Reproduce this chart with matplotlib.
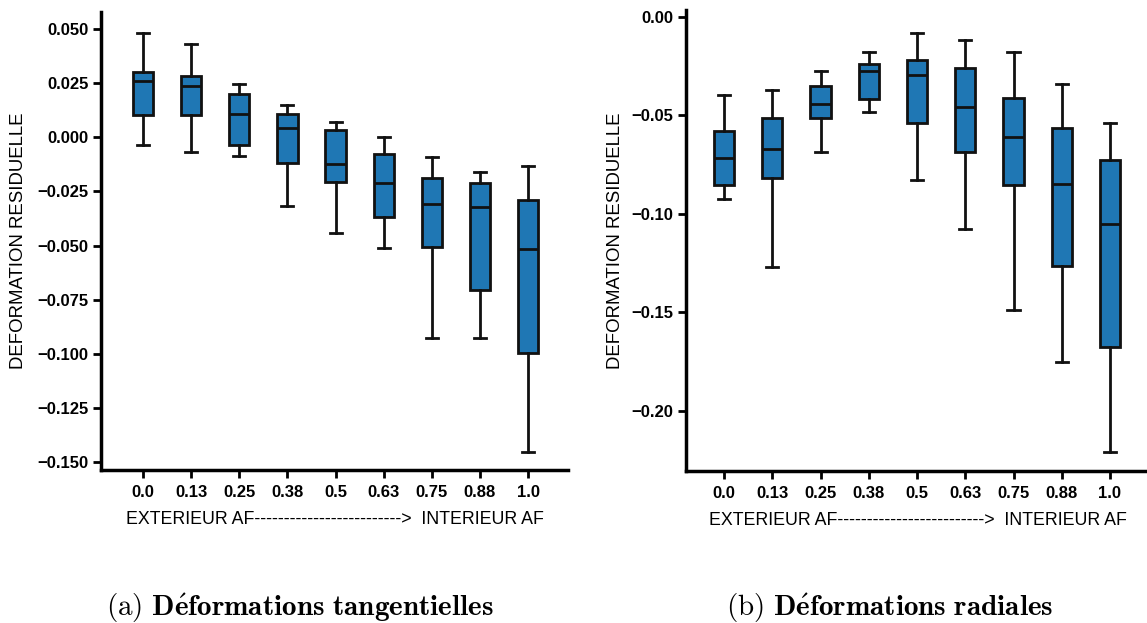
import matplotlib
matplotlib.use("Agg")
import matplotlib.pyplot as plt

plt.rcParams['mathtext.fontset'] = 'cm'

categories = ["0.0", "0.13", "0.25", "0.38", "0.5", "0.63", "0.75", "0.88", "1.0"]

# Panel (a): tangential residual strain
tan_whislo = [-0.0037, -0.0068, -0.0088, -0.0318, -0.0442, -0.0510, -0.0925, -0.0925, -0.1454]
tan_q1     = [0.0103, 0.0103, -0.0034, -0.0117, -0.0206, -0.0366, -0.0506, -0.0706, -0.0996]
tan_med    = [0.0260, 0.0237, 0.0109, 0.0044, -0.0122, -0.0211, -0.0309, -0.0322, -0.0517]
tan_q3     = [0.0301, 0.0283, 0.0200, 0.0108, 0.0032, -0.0078, -0.0188, -0.0211, -0.0289]
tan_whishi = [0.0480, 0.0430, 0.0247, 0.0149, 0.0069, 0.0001, -0.0090, -0.0160, -0.0131]

# Panel (b): radial residual strain
rad_whislo = [-0.0927, -0.1271, -0.0689, -0.0485, -0.0829, -0.1079, -0.1487, -0.1753, -0.2211]
rad_q1     = [-0.0856, -0.0820, -0.0516, -0.0419, -0.0540, -0.0685, -0.0856, -0.1264, -0.1675]
rad_med    = [-0.0719, -0.0670, -0.0443, -0.0276, -0.0294, -0.0457, -0.0612, -0.0849, -0.1054]
rad_q3     = [-0.0580, -0.0516, -0.0352, -0.0239, -0.0220, -0.0259, -0.0414, -0.0563, -0.0726]
rad_whishi = [-0.0397, -0.0371, -0.0276, -0.0179, -0.0084, -0.0118, -0.0181, -0.0343, -0.0540]

tan_yticks = [0.050, 0.025, 0.000, -0.025, -0.050, -0.075, -0.100, -0.125, -0.150]
tan_yticklabels = ["0.050", "0.025", "0.000", "\u22120.025", "\u22120.050", "\u22120.075",
                   "\u22120.100", "\u22120.125", "\u22120.150"]
rad_yticks = [0.00, -0.05, -0.10, -0.15, -0.20]
rad_yticklabels = ["0.00", "\u22120.05", "\u22120.10", "\u22120.15", "\u22120.20"]

ylabel = "DEFORMATION RESIDUELLE"
xlabel = "EXTERIEUR AF" + "-" * 25 + ">  INTERIEUR AF"
cap_a = r"$\mathrm{(a)}\ \mathbf{D\acute{e}formations\ tangentielles}$"
cap_b = r"$\mathrm{(b)}\ \mathbf{D\acute{e}formations\ radiales}$"

BOX_COLOR = "#1f77b4"

fig = plt.figure(figsize=(11.47, 6.23), dpi=100)
W, H = 1147, 623

def make_axes(left, right, top, bottom):
    return fig.add_axes([left / W, 1 - bottom / H, (right - left) / W, (bottom - top) / H])

ax1 = make_axes(101, 568, 12, 470)
ax2 = make_axes(686, 1150, 10, 471)

def draw(ax, lo, q1, med, q3, hi, yticks, yticklabels, xlim, ylim, ylabel_x):
    stats = []
    for i in range(len(categories)):
        stats.append(dict(whislo=lo[i], q1=q1[i], med=med[i], q3=q3[i], whishi=hi[i],
                          fliers=[], label=categories[i]))
    ax.bxp(stats, positions=list(range(len(categories))), widths=0.42, capwidths=0.25,
           patch_artist=True, showfliers=False,
           boxprops=dict(facecolor=BOX_COLOR, edgecolor="#111111", linewidth=2),
           medianprops=dict(color="#111111", linewidth=2),
           whiskerprops=dict(color="#111111", linewidth=2),
           capprops=dict(color="#111111", linewidth=2))
    ax.set_xlim(*xlim)
    ax.set_ylim(*ylim)
    ax.set_yticks(yticks)
    ax.set_yticklabels(yticklabels)
    ax.set_xticks(list(range(len(categories))))
    ax.set_xticklabels(categories)
    for lab in ax.get_xticklabels() + ax.get_yticklabels():
        lab.set_fontfamily("Liberation Sans")
        lab.set_fontweight("bold")
        lab.set_fontsize(12)
    ax.tick_params(axis="both", direction="out", length=6, width=2)
    ax.tick_params(axis="x", pad=5)
    ax.tick_params(axis="y", pad=3)
    ax.spines["top"].set_visible(False)
    ax.spines["right"].set_visible(False)
    ax.spines["left"].set_linewidth(2.5)
    ax.spines["bottom"].set_linewidth(2.5)
    ax.set_ylabel(ylabel, fontfamily="Liberation Sans", fontsize=13.4)
    ax.yaxis.label.set_va("center")
    ax.yaxis.set_label_coords(ylabel_x, 0.5)
    ax.set_xlabel(xlabel, fontfamily="Liberation Sans", fontsize=12.8, labelpad=8)

draw(ax1, tan_whislo, tan_q1, tan_med, tan_q3, tan_whishi, tan_yticks, tan_yticklabels,
     (-0.875, 8.83), (-0.1536, 0.0578), (19 - 101) / 467)
draw(ax2, rad_whislo, rad_q1, rad_med, rad_q3, rad_whishi, rad_yticks, rad_yticklabels,
     (-0.79, 8.83), (-0.2306, 0.0034), (615 - 686) / 464)

fig.text(300 / W, 1 - 616 / H, cap_a, fontsize=21, ha="center", va="baseline")
fig.text(890 / W, 1 - 616 / H, cap_b, fontsize=21, ha="center", va="baseline")

fig.savefig("out.png", dpi=100)
